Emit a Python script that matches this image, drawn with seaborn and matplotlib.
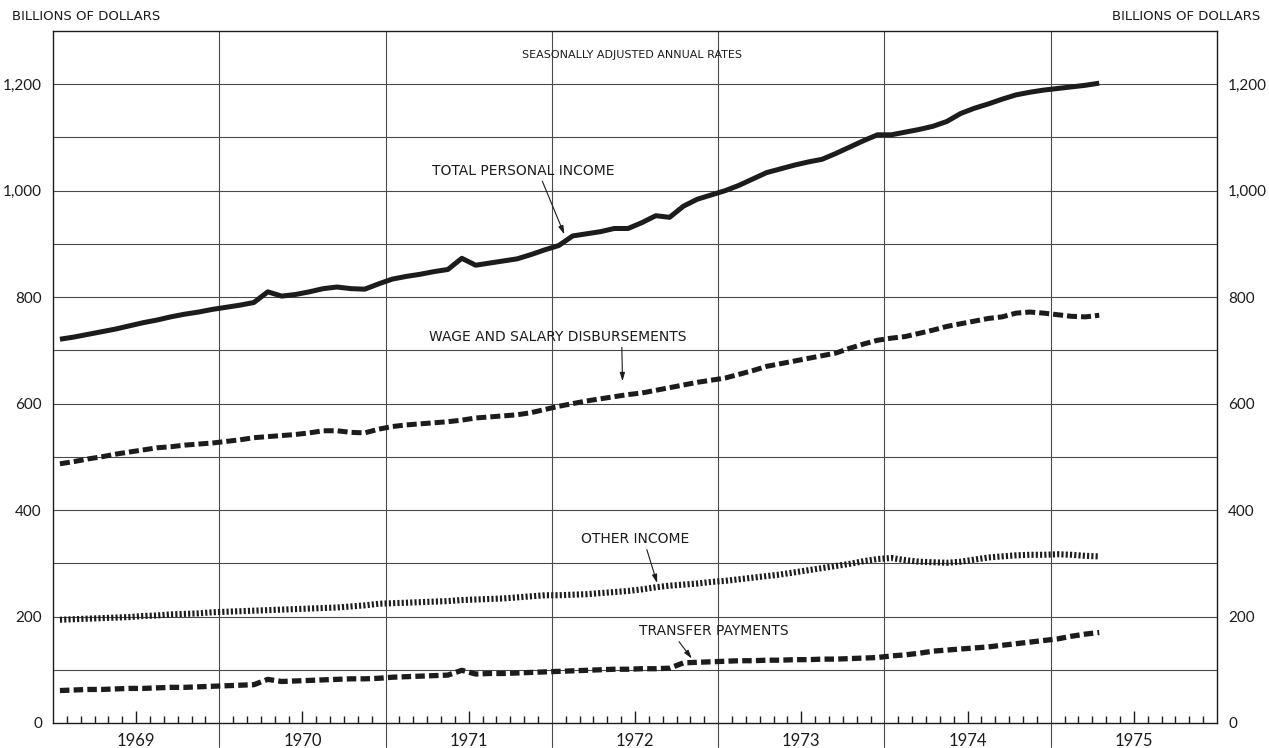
import numpy as np
import pandas as pd
import matplotlib
matplotlib.use('Agg')
import matplotlib.pyplot as plt
import seaborn as sns

# monthly, seasonally adjusted annual rates, billions of dollars (Jan 1969 - Apr 1975)
years = [1969, 1970, 1971, 1972, 1973, 1974, 1975]
total_income = [721, 725, 730, 735, 740, 746, 752, 757, 763, 768, 772, 777,
                781, 785, 790, 810, 802, 805, 810, 816, 819, 816, 815, 825,
                834, 839, 843, 848, 852, 873, 860, 864, 868, 872, 880, 889,
                897, 915, 919, 923, 929, 929, 940, 953, 950, 971, 984, 992,
                1000, 1010, 1022, 1034, 1041, 1048, 1054, 1059, 1070, 1082, 1094, 1105,
                1105, 1110, 1115, 1121, 1130, 1145, 1155, 1163, 1172, 1180, 1185, 1189,
                1192, 1195, 1198, 1202]
wages = [487, 491, 496, 500, 505, 509, 513, 517, 519, 522, 524, 526,
         529, 532, 536, 538, 540, 542, 545, 549, 549, 546, 545, 552,
         557, 560, 562, 564, 566, 569, 573, 575, 577, 579, 583, 589,
         595, 600, 605, 609, 613, 617, 620, 625, 630, 635, 640, 644,
         648, 655, 662, 670, 675, 680, 685, 690, 695, 704, 712, 719,
         723, 726, 732, 738, 745, 750, 755, 760, 763, 770, 772, 770,
         767, 764, 763, 766]
other_income = [194, 195, 196, 197, 198, 199, 201, 202, 204, 205, 206, 208,
                209, 210, 211, 212, 213, 214, 215, 216, 217, 219, 221, 224,
                225, 226, 227, 228, 229, 231, 232, 233, 234, 236, 238, 240,
                240, 241, 242, 244, 246, 248, 251, 255, 258, 260, 262, 265,
                267, 270, 273, 276, 279, 283, 287, 291, 295, 299, 304, 308,
                310, 306, 303, 302, 301, 303, 307, 311, 313, 315, 316, 316,
                317, 316, 314, 313]
transfers = [61, 62, 63, 63, 64, 65, 65, 66, 67, 67, 68, 69,
             70, 71, 72, 82, 78, 79, 80, 81, 82, 83, 83, 84,
             86, 87, 88, 89, 90, 99, 92, 93, 93, 94, 95, 96,
             97, 98, 99, 100, 101, 101, 102, 102, 103, 113, 114, 115,
             116, 117, 117, 118, 118, 119, 119, 120, 120, 121, 122, 123,
             126, 128, 131, 135, 137, 139, 141, 143, 146, 149, 152, 155,
             158, 163, 167, 170]

df = pd.DataFrame({'month': np.arange(len(total_income)) + 0.5,
                   'total': total_income, 'wages': wages,
                   'other': other_income, 'transfers': transfers})

sns.set_theme(style='white')
plt.rcParams['font.family'] = ['Lato', 'DejaVu Sans']
ink = '#1c1c1c'
label_font = ['DejaVu Sans']

fig = plt.figure(figsize=(12.69, 7.48), dpi=100)
ax = fig.add_axes([53/1269, 1 - 723/748, (1217 - 53)/1269, (723 - 31)/748])

# (linestyle, linewidth) per series
styles = {'total': ('-', 3.6), 'wages': ((0, (2.0, 0.8)), 3.6),
          'other': ((0, (0.35, 0.35)), 4.4), 'transfers': ((0, (1.8, 0.8)), 3.8)}
for col, (ls, lw) in styles.items():
    sns.lineplot(data=df, x='month', y=col, ax=ax, color=ink, lw=lw,
                 linestyle=ls, solid_capstyle='butt', dash_capstyle='butt', zorder=3)

ax.set_xlim(0, 84)
ax.set_ylim(0, 1300)
for v in range(100, 1300, 100):
    ax.axhline(v, color='#4a4a4a', lw=0.8, zorder=1)
for k in range(12, 84, 12):
    ax.axvline(k, ymin=-0.035, ymax=1, color='#4a4a4a', lw=0.8, zorder=1, clip_on=False)

ax.set_xticks([6 + 12 * i for i in range(len(years))])
ax.set_xticklabels(years)
ax.set_xticks([m for m in range(1, 84) if m % 6], minor=True)
ax.tick_params(axis='x', which='major', bottom=True, direction='in', length=9,
               width=1, color=ink, pad=7, labelsize=12, labelcolor=ink)
ax.tick_params(axis='x', which='minor', bottom=True, direction='in', length=5,
               width=1, color=ink)
ax.set_yticks(range(0, 1201, 200))
ax.set_yticklabels([f'{v:,}' for v in range(0, 1201, 200)])
ax.tick_params(axis='y', length=0, labelleft=True, labelright=True, pad=8,
               labelsize=11, labelcolor=ink)
ax.set_xlabel('')
ax.set_ylabel('')
for s in ax.spines.values():
    s.set_color(ink)
    s.set_linewidth(1)

arrow = dict(arrowstyle='-|>,head_length=0.5,head_width=0.15', lw=0.8, color=ink,
             shrinkA=0, shrinkB=0)
ax.annotate('TOTAL PERSONAL INCOME', xy=(36.9, 918), xytext=(33.9, 1037),
            ha='center', va='center', fontsize=10, color=ink, family=label_font,
            arrowprops=dict(arrow, relpos=(0.6, 0)))
ax.annotate('WAGE AND SALARY DISBURSEMENTS', xy=(41.1, 642), xytext=(36.4, 725),
            ha='center', va='center', fontsize=10, color=ink, family=label_font,
            arrowprops=dict(arrow, relpos=(0.75, 0)))
ax.annotate('OTHER INCOME', xy=(43.6, 263), xytext=(42.0, 345),
            ha='center', va='center', fontsize=10, color=ink, family=label_font,
            arrowprops=dict(arrow, relpos=(0.6, 0)))
ax.annotate('TRANSFER PAYMENTS', xy=(46.1, 121), xytext=(47.7, 172),
            ha='center', va='center', fontsize=10, color=ink, family=label_font,
            arrowprops=dict(arrow, relpos=(0.25, 0)))

fig.text(12/1269, 1 - 17/748, 'BILLIONS OF DOLLARS', ha='left', va='center',
         fontsize=9.5, color=ink, family=label_font)
fig.text(1260/1269, 1 - 17/748, 'BILLIONS OF DOLLARS', ha='right', va='center',
         fontsize=9.5, color=ink, family=label_font)
fig.text(632/1269, 1 - 55/748, 'SEASONALLY ADJUSTED ANNUAL RATES', ha='center',
         va='center', fontsize=8, color=ink, family=label_font)

fig.savefig('out.png', dpi=100)
